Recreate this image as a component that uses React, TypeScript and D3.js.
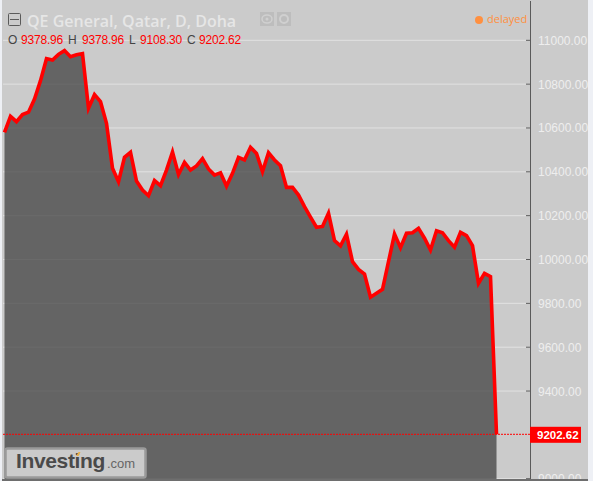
import React from 'react';
import * as d3 from 'd3';

const closes = [
  10580, 10653, 10629, 10661, 10672, 10732, 10816, 10916, 10910, 10936, 10953, 10925, 10934, 10939,
  10690, 10752, 10720, 10621, 10416, 10355, 10466, 10489, 10358, 10317, 10291, 10360, 10337, 10408,
  10490, 10388, 10443, 10408, 10427, 10460, 10413, 10385, 10396, 10335, 10393, 10466, 10454, 10512,
  10484, 10401, 10487, 10454, 10428, 10329, 10329, 10294, 10241, 10193, 10147, 10151, 10211, 10086,
  10062, 10115, 9990, 9955, 9934, 9828, 9846, 9864, 9990, 10116, 10054, 10120, 10122, 10142, 10097,
  10043, 10131, 10122, 10086, 10056, 10124, 10109, 10063, 9891, 9937, 9922, 9202.62,
];
// 9200 sits behind the price tag, so it has no label of its own
const yTicks = [9000, 9400, 9600, 9800, 10000, 10200, 10400, 10600, 10800, 11000];
const ohlc = [
  { key: 'O', value: '9378.96' },
  { key: 'H', value: '9378.96' },
  { key: 'L', value: '9108.30' },
  { key: 'C', value: '9202.62' },
];
const lastPrice = closes[closes.length - 1];

const width = 593;
const height = 481;
const plotBottom = 479;
const axisX = 530;
const bg = '#cbcbcb';
const sans = '"Open Sans", "Noto Sans", sans-serif';
const liberation = '"Liberation Sans", sans-serif';

export default function App() {
  const x = d3.scaleLinear().domain([0, closes.length - 1]).range([4.5, 496.5]);
  const y = d3.scaleLinear().domain([11000, 9202.62]).range([40.3, 434.3]);

  const line = d3.line<number>().x((_, i) => x(i)).y((d) => y(d));
  const area = d3
    .area<number>()
    .x((_, i) => x(i))
    .y0(plotBottom)
    .y1((d) => y(d));

  // legend is laid out by hand, label then value
  const legendX = [8, 21, 68, 82, 129, 140, 187, 199];

  return (
    <svg
      width={width}
      height={height}
      style={{ position: 'absolute', left: 0, top: 0, display: 'block' }}
    >
      <defs>
        <clipPath id="plot-clip">
          <rect x={0} y={0} width={width} height={plotBottom} />
        </clipPath>
      </defs>
      <rect x={0} y={0} width={width} height={height} fill="#eef0f5" />
      <rect x={2} y={0} width={586} height={plotBottom} fill={bg} />

      {yTicks.map((t) => (
        <line key={t} x1={3} x2={axisX} y1={y(t)} y2={y(t)} stroke="#e2e2e2" strokeWidth={1} />
      ))}

      <path d={area(closes) ?? ''} fill="#424242" fillOpacity={0.75} />
      <rect x={2} y={plotBottom} width={586} height={2} fill="#6e6e6e" />
      <path
        d={line(closes) ?? ''}
        fill="none"
        stroke="#ff0000"
        strokeWidth={3.6}
        strokeLinejoin="miter"
      />

      <line
        x1={3}
        x2={axisX}
        y1={y(lastPrice)}
        y2={y(lastPrice)}
        stroke="#ff0000"
        strokeWidth={1}
        strokeDasharray="2 1"
      />

      <line x1={axisX + 0.5} x2={axisX + 0.5} y1={1} y2={plotBottom} stroke="#5a5a5a" strokeWidth={1} />
      <g clipPath="url(#plot-clip)">
        {yTicks.map((t) => (
          <g key={t}>
            <line x1={axisX - 4} x2={axisX} y1={y(t)} y2={y(t)} stroke="#5a5a5a" />
            <text
              x={538}
              y={y(t) + 4.5}
              fontFamily={liberation}
              fontSize={12}
              fill="#eeeeee"
            >
              {d3.format('.2f')(t)}
            </text>
          </g>
        ))}
      </g>

      <rect x={axisX} y={y(lastPrice) - 7.5} width={51} height={16} fill="#ff0000" />
      <text
        x={537}
        y={y(lastPrice) + 4.5}
        fontFamily={liberation}
        fontSize={11.5}
        fontWeight={700}
        fill="#ffffff"
      >
        {d3.format('.2f')(lastPrice)}
      </text>

      {/* title row */}
      <rect x={8.5} y={13.5} width={12} height={12} fill="none" stroke="#5a5a5a" strokeWidth={1} rx={1} />
      <line x1={10} x2={19} y1={19.5} y2={19.5} stroke="#5a5a5a" />
      <text x={27} y={26.5} fontFamily={sans} fontSize={16} fontWeight={600} fill="#e6e6e6">
        QE General, Qatar, D, Doha
      </text>
      <rect x={260} y={12} width={14} height={14} fill="#bdbdbd" />
      <rect x={277} y={12} width={14} height={14} fill="#bdbdbd" />
      <ellipse cx={267} cy={19} rx={5} ry={4} fill="none" stroke="#d0d0d0" strokeWidth={1.5} />
      <circle cx={267} cy={19} r={1.5} fill="#d0d0d0" />
      <circle cx={284} cy={19} r={4} fill="none" stroke="#d0d0d0" strokeWidth={2} />

      {/* ohlc row */}
      {ohlc.map((d, i) => (
        <g key={d.key} fontFamily={liberation} fontSize={12}>
          <text x={legendX[i * 2]} y={44} fill="#444444">
            {d.key}
          </text>
          <text x={legendX[i * 2 + 1]} y={44} fill="#ff0000" letterSpacing={-0.2}>
            {d.value}
          </text>
        </g>
      ))}

      {/* delayed marker */}
      <circle cx={479} cy={20} r={4} fill="#ff9040" />
      <text x={487} y={23} fontFamily={sans} fontSize={11} fill="#ff9040">
        delayed
      </text>

      {/* logo */}
      <rect
        x={5.5}
        y={448.5}
        width={140}
        height={29}
        rx={2}
        fill={bg}
        stroke="#9a9a9a"
        strokeWidth={2.5}
      />
      <text x={16} y={468} fontFamily={liberation} fontSize={21} fontWeight={700} fill="#4a4a4a" letterSpacing={-0.35}>
        Investing
      </text>
      <path d="M76 456 l2.5 -4 l2 0 l-2 4 z" fill="#e8b04a" />
      <text x={107} y={468} fontFamily={liberation} fontSize={13} fill="#666666">
        .com
      </text>
    </svg>
  );
}
